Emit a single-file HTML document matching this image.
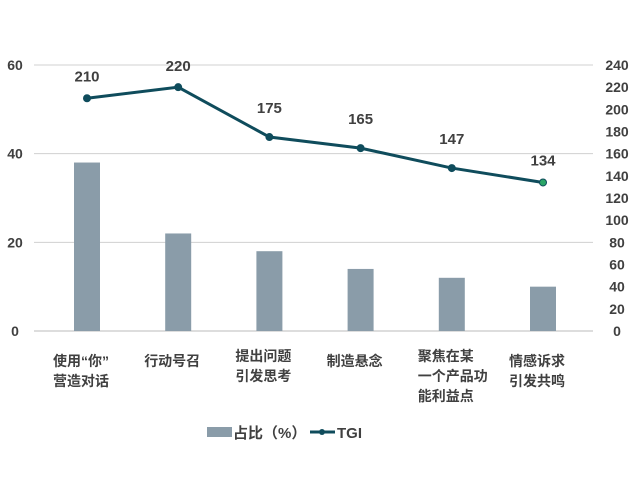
<!DOCTYPE html>
<html><head><meta charset="utf-8"><style>
body{margin:0;background:#fff;width:640px;height:492px;overflow:hidden}
svg text{font-family:"Liberation Sans","Noto Sans CJK SC",sans-serif;fill:#404040;font-weight:bold}
</style></head><body>
<svg id="c" width="640" height="492"></svg>
<script>
const categories=[["使用“你”","营造对话"],["行动号召"],["提出问题","引发思考"],["制造悬念"],["聚焦在某","一个产品功","能利益点"],["情感诉求","引发共鸣"]];
const shareValues=[38,22,18,14,12,10];
const tgiValues=[210,220,175,165,147,134];
const leftTicks=[0,20,40,60];
const rightTicks=[0,20,40,60,80,100,120,140,160,180,200,220,240];
const labelY=[[361,381],[361],[356,376],[361],[356,376,396],[361,381]];
const svg=document.getElementById('c');const NS='http://www.w3.org/2000/svg';
function mk(t,a,p){const e=document.createElementNS(NS,t);for(const k in a)e.setAttribute(k,a[k]);(p||svg).appendChild(e);return e;}
const y0=331,yTop=65,xL=34,xR=593;
const yL=v=>y0-(v/60)*(y0-yTop);
const yR=v=>y0-(v/240)*(y0-yTop);
const xC=i=>87+i*91.2;
leftTicks.forEach(v=>{
 const g=mk('line',{x1:xL,x2:xR,y1:yL(v),y2:yL(v),stroke:v===0?'#bbb':'#d0d0d0','stroke-width':1});
 
 const t=mk('text',{x:15,y:yL(v)+5,'font-size':14,'text-anchor':'middle'});t.textContent=v;
 
});
rightTicks.forEach(v=>{
 const t=mk('text',{x:617,y:yR(v)+5,'font-size':14,'text-anchor':'middle'});t.textContent=v;
 
});
shareValues.forEach((v,i)=>{
 const r=mk('rect',{x:xC(i)-13,y:yL(v),width:26,height:y0-yL(v),fill:'#8a9ca9'});
 
});
categories.forEach((lines,i)=>{
 lines.forEach((s,j)=>{
  const t=mk('text',{x:xC(i)-34,y:labelY[i][j]+5,'font-size':14});t.textContent=s;
  
 });
});
const pts=tgiValues.map((v,i)=>xC(i)+','+yR(v)).join(' ');
const pl=mk('polyline',{points:pts,fill:'none',stroke:'#0f4c5c','stroke-width':3});

tgiValues.forEach((v,i)=>{
 const last=i===tgiValues.length-1;
 const c=mk('circle',{cx:xC(i),cy:yR(v),r:3.5,fill:last?'#2aa566':'#0f4c5c',stroke:'#0f4c5c','stroke-width':1});
 
 const t=mk('text',{x:xC(i),y:yR(v)-(i===1?16:i===0?17:i===5?17:24),'font-size':15,'text-anchor':'middle'});t.textContent=v;
 
});
const lg=mk('g',{});
const lr=mk('rect',{x:207,y:427,width:25,height:10,fill:'#8a9ca9'},lg);

const lt=mk('text',{x:233,y:438,'font-size':15},lg);lt.textContent='占比（%）';

const ll=mk('line',{x1:310,x2:335,y1:432,y2:432,stroke:'#0f4c5c','stroke-width':3},lg);

mk('circle',{cx:322,cy:432,r:3,fill:'#0f4c5c'},lg);
const lt2=mk('text',{x:337,y:438,'font-size':15},lg);lt2.textContent='TGI';

</script>
</body></html>
